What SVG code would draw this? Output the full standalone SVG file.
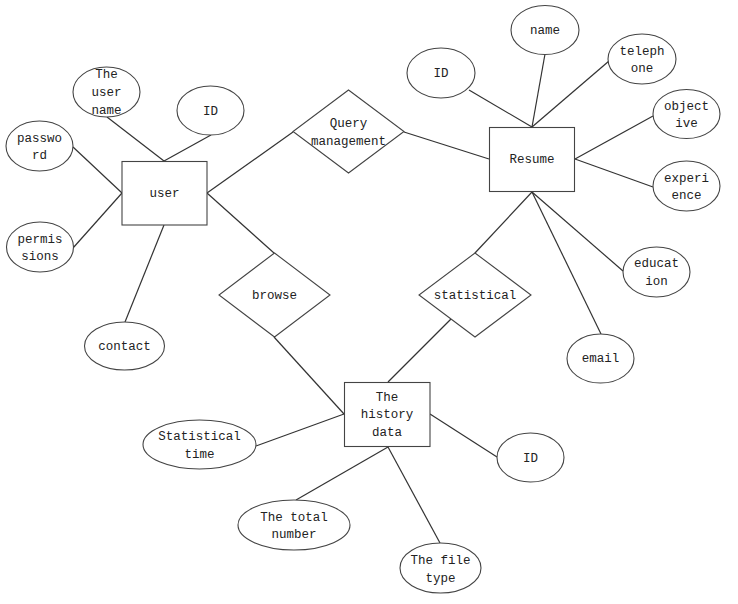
<svg xmlns="http://www.w3.org/2000/svg" width="738" height="604" viewBox="0 0 738 604">
<style>
.s{fill:#fff;stroke:#444;stroke-width:1.1}
.l{stroke:#333;stroke-width:1.2;fill:none}
text{font-family:"Liberation Mono","DejaVu Sans Mono",monospace;font-size:12.5px;fill:#222;text-anchor:middle;dominant-baseline:central}
.t{transform:translate(0,1px)}
</style>
<rect width="738" height="604" fill="#fff"/>
<g id="connectors">
<line class="l" x1="107" y1="117" x2="164" y2="161"/>
<line class="l" x1="211" y1="135" x2="164" y2="161"/>
<line class="l" x1="73" y1="147" x2="122" y2="193"/>
<line class="l" x1="73" y1="248" x2="122" y2="193"/>
<line class="l" x1="164" y1="225" x2="125" y2="322"/>
<line class="l" x1="207" y1="193" x2="293" y2="132"/>
<line class="l" x1="207" y1="193" x2="274" y2="253"/>
<line class="l" x1="404" y1="132" x2="489" y2="159"/>
<line class="l" x1="469" y1="90" x2="532" y2="127"/>
<line class="l" x1="545" y1="54" x2="532" y2="127"/>
<line class="l" x1="609" y1="61" x2="532" y2="127"/>
<line class="l" x1="653" y1="116" x2="575" y2="159"/>
<line class="l" x1="653" y1="187" x2="575" y2="159"/>
<line class="l" x1="532" y1="192" x2="475" y2="253"/>
<line class="l" x1="532" y1="192" x2="623" y2="271"/>
<line class="l" x1="532" y1="192" x2="601" y2="334"/>
<line class="l" x1="274" y1="337" x2="344" y2="414"/>
<line class="l" x1="451" y1="319" x2="388" y2="382"/>
<line class="l" x1="256" y1="446" x2="344" y2="414"/>
<line class="l" x1="430" y1="414" x2="497" y2="457"/>
<line class="l" x1="388" y1="447" x2="296" y2="500"/>
<line class="l" x1="388" y1="447" x2="440" y2="543"/>
</g>
<g id="user"><rect class="s" x="122" y="161.5" width="85" height="63.5"/><g class="t"><text x="164.5" y="193">user</text></g></g>
<g id="user-name"><ellipse class="s" cx="106.5" cy="92" rx="33.5" ry="25"/><g class="t"><text x="106.5" y="74">The</text><text x="106.5" y="92">user</text><text x="106.5" y="109.5">name</text></g></g>
<g id="user-id"><ellipse class="s" cx="210.5" cy="110.5" rx="33.5" ry="24.5"/><g class="t"><text x="210.5" y="110.5">ID</text></g></g>
<g id="password"><ellipse class="s" cx="39.5" cy="146" rx="33.5" ry="25"/><g class="t"><text x="39.5" y="138">passwo</text><text x="39.5" y="155">rd</text></g></g>
<g id="permissions"><ellipse class="s" cx="40" cy="247" rx="33.5" ry="25"/><g class="t"><text x="40" y="238.5">permis</text><text x="40" y="255.5">sions</text></g></g>
<g id="contact"><ellipse class="s" cx="124.5" cy="346" rx="40" ry="24"/><g class="t"><text x="124.5" y="346">contact</text></g></g>
<g id="query"><polygon class="s" points="348.5,90 404,131.5 348.5,173 293,131.5"/><g class="t"><text x="348.5" y="123">Query</text><text x="348.5" y="140.5">management</text></g></g>
<g id="resume"><rect class="s" x="489.5" y="127.5" width="85" height="64"/><g class="t"><text x="532" y="159">Resume</text></g></g>
<g id="resume-id"><ellipse class="s" cx="441" cy="73" rx="34" ry="25"/><g class="t"><text x="441" y="73">ID</text></g></g>
<g id="name"><ellipse class="s" cx="545" cy="30" rx="34" ry="24.5"/><g class="t"><text x="545" y="30">name</text></g></g>
<g id="telephone"><ellipse class="s" cx="642" cy="59" rx="34" ry="25"/><g class="t"><text x="642" y="51">teleph</text><text x="642" y="68">one</text></g></g>
<g id="objective"><ellipse class="s" cx="686.5" cy="114" rx="33.5" ry="24.5"/><g class="t"><text x="686.5" y="106">object</text><text x="686.5" y="123">ive</text></g></g>
<g id="experience"><ellipse class="s" cx="686.5" cy="186" rx="33.5" ry="25"/><g class="t"><text x="686.5" y="177.5">experi</text><text x="686.5" y="194.5">ence</text></g></g>
<g id="education"><ellipse class="s" cx="656.5" cy="272" rx="33.5" ry="25"/><g class="t"><text x="656.5" y="263">educat</text><text x="656.5" y="280.5">ion</text></g></g>
<g id="email"><ellipse class="s" cx="600.5" cy="358.5" rx="33.5" ry="24.5"/><g class="t"><text x="600.5" y="358">email</text></g></g>
<g id="browse"><polygon class="s" points="274.5,253 330,295 274.5,337 219,295"/><g class="t"><text x="274.5" y="295">browse</text></g></g>
<g id="statistical"><polygon class="s" points="475,253 531,295 475,337 419,295"/><g class="t"><text x="475" y="295">statistical</text></g></g>
<g id="history"><rect class="s" x="344.5" y="382.5" width="85.5" height="64"/><g class="t"><text x="387" y="396.5">The</text><text x="387" y="414">history</text><text x="387" y="431.5">data</text></g></g>
<g id="stat-time"><ellipse class="s" cx="199.5" cy="444.5" rx="56.5" ry="24.5"/><g class="t"><text x="199.5" y="436">Statistical</text><text x="199.5" y="453.5">time</text></g></g>
<g id="history-id"><ellipse class="s" cx="530.5" cy="457.5" rx="33.5" ry="24.5"/><g class="t"><text x="530.5" y="457.5">ID</text></g></g>
<g id="total-number"><ellipse class="s" cx="294" cy="525" rx="56" ry="25"/><g class="t"><text x="294" y="516.5">The total</text><text x="294" y="534">number</text></g></g>
<g id="file-type"><ellipse class="s" cx="440.5" cy="568" rx="40.5" ry="25"/><g class="t"><text x="440.5" y="560">The file</text><text x="440.5" y="577.5">type</text></g></g>
</svg>
